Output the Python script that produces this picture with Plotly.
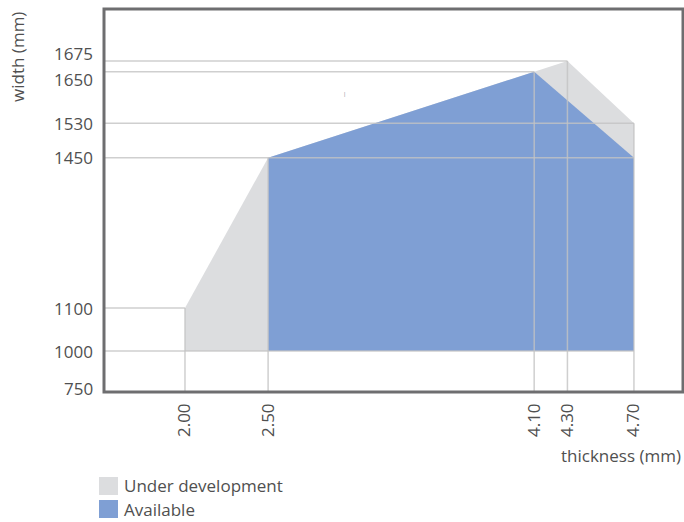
import plotly.graph_objects as go

# Data
dev_x = [2.00, 2.00, 2.50, 4.30, 4.70, 4.70]
dev_y = [1000, 1100, 1450, 1675, 1530, 1000]
avail_x = [2.50, 2.50, 4.10, 4.70, 4.70]
avail_y = [1000, 1450, 1650, 1450, 1000]
x_ticks = [2.00, 2.50, 4.10, 4.30, 4.70]
x_ticklabels = ["2.00", "2.50", "4.10", "4.30", "4.70"]
y_ticks = [1000, 1100, 1450, 1530, 1650, 1675]
y_ticklabels = ["1000", "1100", "1450", "1530", "1650", "1675"]
y_bottom_label = "750"
# guide lines: (x, y) corners linked to the axes
h_guides = [(2.00, 1100), (4.70, 1000), (4.70, 1450), (4.70, 1530), (4.10, 1650), (4.30, 1675)]
v_guides = [(2.00, 1100), (2.50, 1450), (4.10, 1650), (4.30, 1675), (4.70, 1530)]
legend_labels = ["Under development", "Available"]
legend_colors = ["#dcdddf", "#7f9fd4"]

# styling
y_label_shift = [0, 0, 0, 0, -8, 7]
X_RANGE = [1.513, 4.995]
Y_RANGE = [904.6, 1796]
FONT = "Open Sans"
TXT = "#505050"
GRID = "rgba(195,195,195,0.8)"
FS = 17

fig = go.Figure()
fig.add_trace(go.Scatter(x=dev_x + [dev_x[0]], y=dev_y + [dev_y[0]], fill="toself",
                         fillcolor=legend_colors[0], line=dict(width=0),
                         mode="lines", hoverinfo="skip", showlegend=False))
fig.add_trace(go.Scatter(x=avail_x + [avail_x[0]], y=avail_y + [avail_y[0]], fill="toself",
                         fillcolor=legend_colors[1], line=dict(width=0),
                         mode="lines", hoverinfo="skip", showlegend=False))

gx, gy = [], []
for x, y in h_guides:
    gx += [X_RANGE[0], x, None]
    gy += [y, y, None]
for x, y in v_guides:
    gx += [x, x, None]
    gy += [Y_RANGE[0], y, None]
fig.add_trace(go.Scatter(x=gx, y=gy, mode="lines", line=dict(color=GRID, width=1.5),
                         hoverinfo="skip", showlegend=False))

# small stray mark
fig.add_annotation(x=2.96, y=1598, text="|", showarrow=False,
                   font=dict(family=FONT, size=6, color="#888"))

# frame
fig.add_shape(type="rect", xref="paper", yref="paper", x0=0, x1=1, y0=0, y1=1,
              line=dict(color="#6e6e70", width=3), layer="above")

# y tick labels
for v, t, s in zip(y_ticks, y_ticklabels, y_label_shift):
    fig.add_annotation(xref="paper", yref="y", x=0, y=v, text=t, showarrow=False,
                       xanchor="right", yanchor="middle", xshift=-9, yshift=s,
                       font=dict(family=FONT, size=FS, color=TXT))
fig.add_annotation(xref="paper", yref="paper", x=0, y=0, text=y_bottom_label,
                   showarrow=False, xanchor="right", yanchor="middle", xshift=-9, yshift=4,
                   font=dict(family=FONT, size=FS, color=TXT))

# axis titles
fig.add_annotation(xref="paper", yref="paper", x=-0.1485, y=0.875, text="width (mm)",
                   textangle=-90, showarrow=False, xanchor="center", yanchor="middle",
                   font=dict(family=FONT, size=FS, color=TXT))
fig.add_annotation(xref="paper", yref="paper", x=1.0, y=-0.1645, text="thickness (mm)",
                   showarrow=False, xanchor="right", yanchor="middle",
                   font=dict(family=FONT, size=FS, color=TXT))

# manual legend
leg_box = [(-0.2219, -0.2689), (-0.282, -0.329)]
for lab, col, (ya, yb) in zip(legend_labels, legend_colors, leg_box):
    fig.add_shape(type="rect", xref="paper", yref="paper",
                  x0=-0.0086, x1=0.0242, y0=yb, y1=ya,
                  fillcolor=col, line=dict(width=0))
    fig.add_annotation(xref="paper", yref="paper", x=0.031, y=(ya + yb) / 2, text=lab,
                       showarrow=False, xanchor="left", yanchor="middle",
                       font=dict(family=FONT, size=FS, color=TXT))

fig.update_xaxes(range=X_RANGE, tickvals=x_ticks, ticktext=x_ticklabels, tickangle=-90,
                 showgrid=False, zeroline=False, showline=False, ticks="",
                 ticklabelstandoff=7,
                 tickfont=dict(family=FONT, size=FS, color=TXT), fixedrange=True)
fig.update_yaxes(range=Y_RANGE, showgrid=False, zeroline=False, showline=False,
                 showticklabels=False, ticks="", fixedrange=True)

fig.update_layout(width=684, height=522, margin=dict(l=104, r=1, t=9, b=130),
                  plot_bgcolor="white", paper_bgcolor="white", showlegend=False)

fig.write_html("out.html", config={"displayModeBar": False},
               post_script="document.body.style.margin='0';"
                           "document.body.style.overflow='hidden';")
